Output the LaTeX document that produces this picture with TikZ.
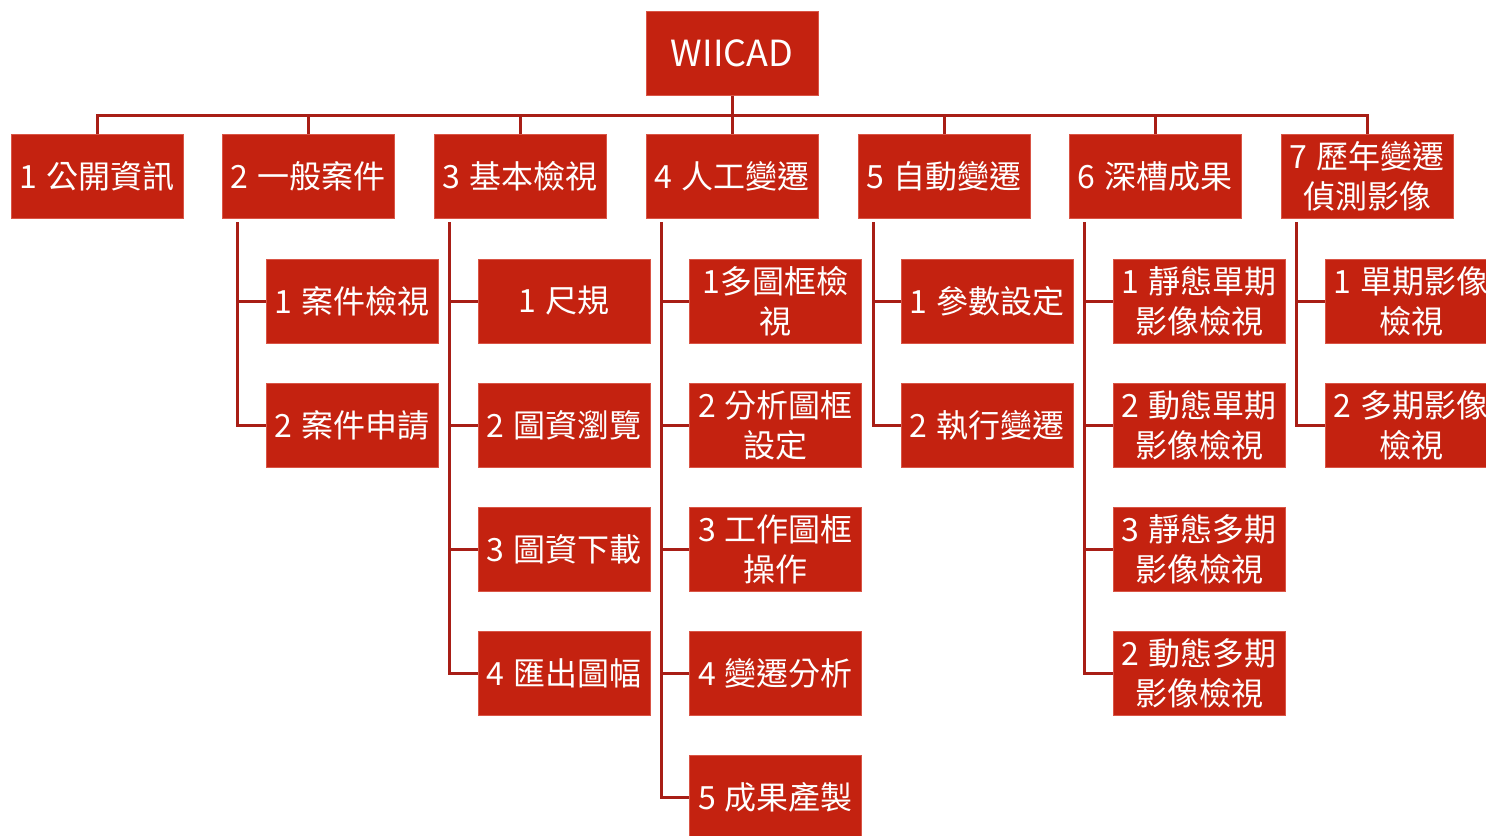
\documentclass[tikz,border=0pt]{standalone}
\usepackage{fontspec}
\setmainfont{Noto Sans CJK TC}
\definecolor{boxred}{HTML}{C42210}
\definecolor{edgered}{HTML}{D95546}
\definecolor{linered}{HTML}{A81E16}
\newcommand\gp{\hspace{0.26em}}
\begin{document}
\begin{tikzpicture}[x=0.5pt,y=-0.5pt,
  box/.style={draw=edgered, line width=0.5pt, fill=boxred, text=white,
    minimum width=86pt, minimum height=42pt, inner sep=0pt, align=center,
    font=\fontsize{16}{20}\selectfont},
  conn/.style={draw=linered, line width=1.5pt}]
\useasboundingbox (0,0) rectangle (1486,835);
% root
\node[box, font=\fontsize{18}{20}\selectfont] (r) at (732,53) {WIICAD};
% level 1
\node[box] (p1) at (97,176.5) {1\gp{}公開資訊};
\node[box] (p2) at (308,176.5) {2\gp{}一般案件};
\node[box] (p3) at (520,176.5) {3\gp{}基本檢視};
\node[box] (p4) at (732,176.5) {4\gp{}人工變遷};
\node[box] (p5) at (944,176.5) {5\gp{}自動變遷};
\node[box] (p6) at (1155,176.5) {6\gp{}深槽成果};
\node[box] (p7) at (1367,176.5) {7\gp{}歷年變遷\\偵測影像};
% level 2
\node[box] (c21) at (352,301) {1\gp{}案件檢視};
\node[box] (c22) at (352,425) {2\gp{}案件申請};
\node[box] (c31) at (564,301) {1\gp{}尺規};
\node[box] (c32) at (564,425) {2\gp{}圖資瀏覽};
\node[box] (c33) at (564,549) {3\gp{}圖資下載};
\node[box] (c34) at (564,673) {4\gp{}匯出圖幅};
\node[box] (c41) at (775.5,301) {1多圖框檢\\視};
\node[box] (c42) at (775.5,425) {2\gp{}分析圖框\\設定};
\node[box] (c43) at (775.5,549) {3\gp{}工作圖框\\操作};
\node[box] (c44) at (775.5,673) {4\gp{}變遷分析};
\node[box] (c45) at (775.5,797) {5\gp{}成果產製};
\node[box] (c51) at (987,301) {1\gp{}參數設定};
\node[box] (c52) at (987,425) {2\gp{}執行變遷};
\node[box] (c61) at (1199,301) {1\gp{}靜態單期\\影像檢視};
\node[box] (c62) at (1199,425) {2\gp{}動態單期\\影像檢視};
\node[box] (c63) at (1199,549) {3\gp{}靜態多期\\影像檢視};
\node[box] (c64) at (1199,673) {2\gp{}動態多期\\影像檢視};
\node[box] (c71) at (1411,301) {1\gp{}單期影像\\檢視};
\node[box] (c72) at (1411,425) {2\gp{}多期影像\\檢視};
% bus
\draw[conn] (r.south) -- (p4.north);
\draw[conn] (p1.north) -- ++(0,-19) -| (p7.north);
\foreach \p in {p2,p3,p5,p6} \draw[conn] (\p.north) -- ++(0,-19);
% child connectors
\foreach \p/\cs in {p2/{c21,c22}, p3/{c31,c32,c33,c34}, p4/{c41,c42,c43,c44,c45},
  p5/{c51,c52}, p6/{c61,c62,c63,c64}, p7/{c71,c72}}{
  \foreach \c in \cs {
    \draw[conn] ([xshift=8pt,yshift=-1.5pt]\p.south west) |- (\c.west);
  }
}
\end{tikzpicture}
\end{document}
